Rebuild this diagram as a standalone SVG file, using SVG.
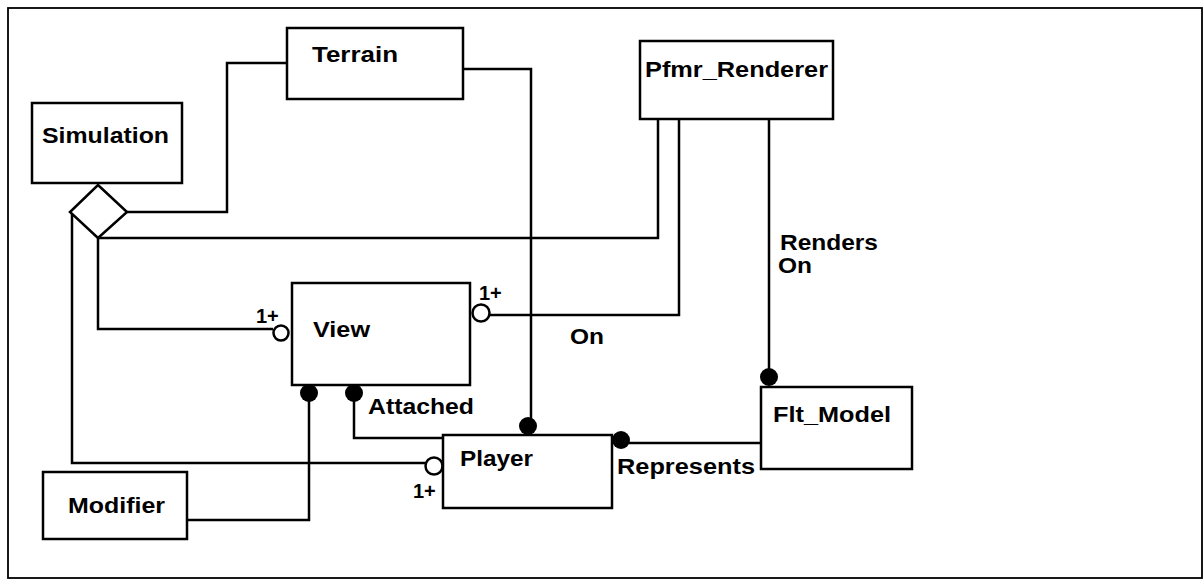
<svg xmlns="http://www.w3.org/2000/svg" width="1204" height="586" viewBox="0 0 1204 586">
<style>
.box{fill:#fff;stroke:#000;stroke-width:2.5}
.ln{fill:none;stroke:#000;stroke-width:2.5}
.t{font-family:"Liberation Sans",Arial,sans-serif;font-weight:bold;font-size:22px;fill:#000}
.s{font-family:"Liberation Sans",Arial,sans-serif;font-weight:bold;font-size:20px;fill:#000}
.open{fill:#fff;stroke:#000;stroke-width:2.5}
.dot{fill:#000}
</style>
<rect x="0" y="0" width="1204" height="586" fill="#fff"/>
<rect x="8" y="8" width="1194" height="570" fill="none" stroke="#000" stroke-width="1.8"/>
<g id="connectors">
<polyline class="ln" points="127,212 227,212 227,63 287,63"/>
<polyline class="ln" points="463,69 531,69 531,426"/>
<polyline class="ln" points="98,238 658,238 658,119"/>
<polyline class="ln" points="679,119 679,315 489,315"/>
<polyline class="ln" points="769,119 769,377"/>
<polyline class="ln" points="98,238 98,329 273,329"/>
<polyline class="ln" points="72,212 72,463 425,463"/>
<polyline class="ln" points="354,393 354,438 443,438"/>
<polyline class="ln" points="309,393 309,520 187,520"/>
<polyline class="ln" points="621,443 761,443"/>
<circle class="open" cx="281" cy="333" r="7.5"/>
<circle class="open" cx="481" cy="313" r="8.5"/>
<circle class="open" cx="434" cy="466" r="8.5"/>
<circle class="dot" cx="309" cy="393" r="9"/>
<circle class="dot" cx="354" cy="393" r="9"/>
<circle class="dot" cx="528" cy="426" r="9"/>
<circle class="dot" cx="621" cy="440" r="9"/>
<circle class="dot" cx="769" cy="377" r="9"/>
<text class="s" x="256" y="323">1+</text>
<text class="s" x="479" y="300">1+</text>
<text class="s" x="413" y="498">1+</text>
<text class="t" x="570" y="344" textLength="34" lengthAdjust="spacingAndGlyphs">On</text>
<text class="t" x="780" y="250" textLength="98" lengthAdjust="spacingAndGlyphs">Renders</text>
<text class="t" x="778" y="273" textLength="34" lengthAdjust="spacingAndGlyphs">On</text>
<text class="t" x="368" y="414" textLength="106" lengthAdjust="spacingAndGlyphs">Attached</text>
<text class="t" x="617" y="474" textLength="138" lengthAdjust="spacingAndGlyphs">Represents</text>
</g>
<g id="simulation">
<rect class="box" x="32" y="103" width="150" height="80"/>
<text class="t" x="42" y="143" textLength="127" lengthAdjust="spacingAndGlyphs">Simulation</text>
<polygon class="box" points="98,185 127,212 98,238 70,212"/>
</g>
<g id="terrain">
<rect class="box" x="287" y="28" width="176" height="71"/>
<text class="t" x="312" y="62" textLength="86" lengthAdjust="spacingAndGlyphs">Terrain</text>
</g>
<g id="pfmr_renderer">
<rect class="box" x="640" y="41" width="193" height="78"/>
<text class="t" x="645" y="77" textLength="183" lengthAdjust="spacingAndGlyphs">Pfmr_Renderer</text>
</g>
<g id="view">
<rect class="box" x="292" y="283" width="178" height="102"/>
<text class="t" x="313" y="337" textLength="57" lengthAdjust="spacingAndGlyphs">View</text>
</g>
<g id="player">
<rect class="box" x="443" y="435" width="169" height="73"/>
<text class="t" x="460" y="466" textLength="73" lengthAdjust="spacingAndGlyphs">Player</text>
</g>
<g id="flt_model">
<rect class="box" x="761" y="387" width="151" height="82"/>
<text class="t" x="773" y="422" textLength="118" lengthAdjust="spacingAndGlyphs">Flt_Model</text>
</g>
<g id="modifier">
<rect class="box" x="43" y="472" width="144" height="67"/>
<text class="t" x="68" y="513" textLength="97" lengthAdjust="spacingAndGlyphs">Modifier</text>
</g>
</svg>
